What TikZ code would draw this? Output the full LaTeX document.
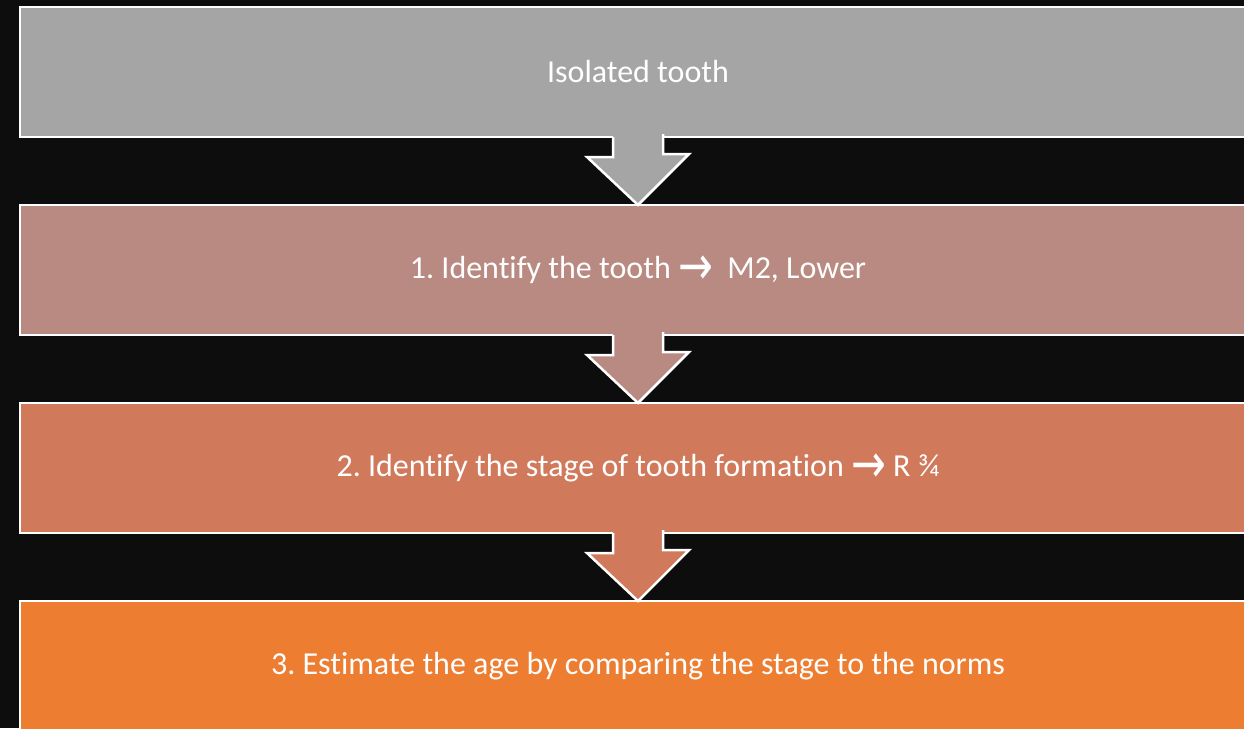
\documentclass[tikz,border=0pt]{standalone}
\usepackage{fontspec}
\setmainfont{Carlito}[RawFeature={-liga;-calt;-clig}]
\newfontfamily\arrowfont{DejaVu Sans}
\usepackage{tikz}
\usetikzlibrary{positioning, calc}
\usepackage{xcolor}
\usepackage{graphicx}
\definecolor{bgblack}{HTML}{0D0D0D}
\definecolor{stgray}{HTML}{A5A5A5}
\definecolor{strose}{HTML}{B98A81}
\definecolor{stclay}{HTML}{D0795B}
\definecolor{storange}{HTML}{ED7D31}
\newcommand{\toarr}{\raisebox{-6pt}{\scalebox{1.3}[1.7]{\arrowfont\char"2192}}}

\begin{document}
\frenchspacing
\begin{tikzpicture}[
        x=1pt, y=1pt,
        node distance = 68pt,
        stage/.style = {draw=white, line width=2.5pt, outer sep=0pt, minimum height=130pt, minimum width=1236pt, align=center, text=white, font=\fontsize{32}{38}\selectfont},
        arrowline/.style = {draw=white, line width=2.5pt, line join=miter},
    ]
        \clip (0,0) rectangle (1244,-728);
        \fill[bgblack] (0,0) rectangle (1244,-728);
        \node[stage, fill=stgray] (s0) at (638,-72) {Isolated tooth};
        \node[stage, fill=strose, below=of s0] (s1) {1. Identify the tooth \toarr\ \ M2, Lower};
        \node[stage, fill=stclay, below=of s1] (s2) {2. Identify the stage of tooth formation \toarr\ R \char"BE};
        \node[stage, fill=storange, below=of s2] (s3) {3. Estimate the age by comparing the stage to the norms};
        % block arrows between the stages
        \foreach \a/\b/\c in {s0/s1/stgray, s1/s2/strose, s2/s3/stclay}{
            \fill[\c] ([shift={(-25,2)}]\a.south) -- ++(0,-22) -- ++(-26,0) -- (\b.north) -- ++(51,51) -- ++(-26,0) -- ++(0,22) -- cycle;
            \draw[arrowline] ([xshift=-25]\a.south) -- ++(0,-20) -- ++(-26,0) -- (\b.north) -- ++(51,51) -- ++(-26,0) -- ++(0,20);
        }
    \end{tikzpicture}
\end{document}
